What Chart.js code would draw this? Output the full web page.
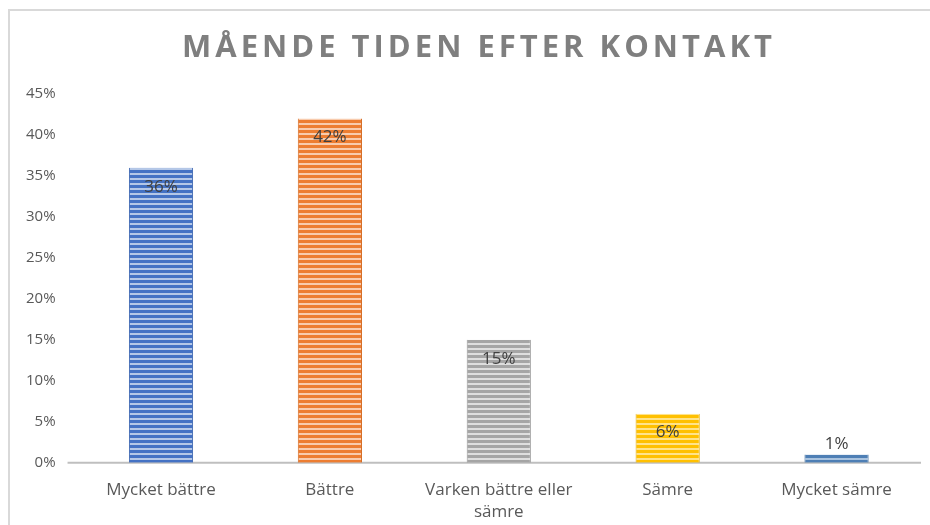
<!DOCTYPE html>
<html>
<head>
<meta charset="utf-8">
<script src="https://cdn.jsdelivr.net/npm/chart.js@4/dist/chart.umd.min.js"></script>
<style>
  html, body { margin: 0; padding: 0; background: #fff; overflow: hidden; }
  #frame { position: absolute; left: 8px; top: 9px; width: 940px; height: 540px; border-left: 2px solid #d9d9d9; border-top: 2px solid #d9d9d9; }
  #wrap { position: absolute; left: 0; top: 0; width: 930px; height: 525px; }
</style>
</head>
<body>
<div id="frame"></div>
<div id="wrap"><canvas id="c" width="930" height="525"></canvas></div>
<script>
const categories = ["Mycket bättre", "Bättre", ["Varken bättre eller", "sämre"], "Sämre", "Mycket sämre"];
const values = [0.36, 0.42, 0.15, 0.06, 0.01];
const yTicks = [0, 0.05, 0.10, 0.15, 0.20, 0.25, 0.30, 0.35, 0.40, 0.45];
const titleText = "MÅENDE TIDEN EFTER KONTAKT";
const barColors = ["#4472C4", "#ED7D31", "#A5A5A5", "#FFC000", "#4E7FB5"];
const lightColors = ["#B4C7E7", "#F8CBAD", "#DEDEDE", "#FFE38A", "#A9C3DF"];
const edgeColors = ["#3A64B0", "#D56B22", "#959595", "#E0A800", "#3F6E9F"];

function stripePattern(dark, light) {
  const c = document.createElement('canvas');
  c.width = 8; c.height = 5;
  const x = c.getContext('2d');
  x.fillStyle = light; x.fillRect(0, 0, 8, 5);
  x.fillStyle = dark; x.fillRect(0, 0, 8, 3);
  return x.createPattern(c, 'repeat');
}
const patterns = barColors.map((c, i) => stripePattern(c, lightColors[i]));

const titlePlugin = {
  id: 'spacedTitle',
  afterDraw(chart) {
    const ctx = chart.ctx;
    ctx.save();
    ctx.font = 'bold 31px "Open Sans"';
    ctx.letterSpacing = '4px';
    ctx.fillStyle = '#7F7F7F';
    ctx.textAlign = 'center';
    ctx.textBaseline = 'middle';
    ctx.fillText(titleText, chart.width / 2 + 14, 48);
    ctx.restore();
  }
};

const baselinePlugin = {
  id: 'baseline',
  beforeDatasetsDraw(chart) {
    const ctx = chart.ctx;
    const y = chart.scales.y.getPixelForValue(0);
    ctx.save();
    ctx.strokeStyle = '#BFBFBF';
    ctx.lineWidth = 2;
    ctx.beginPath();
    ctx.moveTo(chart.chartArea.left - 9, y);
    ctx.lineTo(chart.chartArea.right, y);
    ctx.stroke();
    ctx.restore();
  }
};

const labelPlugin = {
  id: 'valueLabels',
  afterDatasetsDraw(chart) {
    const ctx = chart.ctx;
    const meta = chart.getDatasetMeta(0);
    ctx.save();
    ctx.font = '17px "Open Sans"';
    ctx.fillStyle = '#404040';
    ctx.textAlign = 'center';
    ctx.textBaseline = 'middle';
    meta.data.forEach((bar, i) => {
      const v = values[i];
      const txt = Math.round(v * 100) + '%';
      const h = bar.base - bar.y;
      const y = h > 30 ? bar.y + 19 : bar.y - 10;
      ctx.fillText(txt, bar.x, y);
    });
    ctx.restore();
  }
};

new Chart(document.getElementById('c'), {
  type: 'bar',
  data: {
    labels: categories,
    datasets: [{
      data: values,
      backgroundColor: patterns,
      borderColor: edgeColors,
      borderWidth: { left: 1, right: 1, top: 0, bottom: 0 },
      borderSkipped: false,
      barPercentage: 0.38,
      categoryPercentage: 1.0
    }]
  },
  options: {
    responsive: false,
    animation: false,
    events: [],
    layout: { padding: { left: 5, right: 9, top: 94, bottom: -14 } },
    plugins: {
      legend: { display: false },
      tooltip: { enabled: false },
      title: { display: false }
    },
    scales: {
      y: {
        min: 0,
        max: 0.45,
        afterBuildTicks(axis) { axis.ticks = yTicks.map(v => ({ value: v })); },
        grid: { display: false, drawTicks: false },
        border: { display: false },
        ticks: {
          color: '#595959',
          font: { family: '"Open Sans"', size: 15 },
          padding: 21,
          callback: v => Math.round(v * 100) + '%'
        }
      },
      x: {
        grid: { display: false, drawTicks: false },
        border: { display: false },
        ticks: {
          color: '#595959',
          font: { family: '"Open Sans"', size: 17, lineHeight: 1.3 },
          padding: 16,
          maxRotation: 0
        }
      }
    }
  },
  plugins: [baselinePlugin, labelPlugin, titlePlugin]
});
</script>
</body>
</html>
